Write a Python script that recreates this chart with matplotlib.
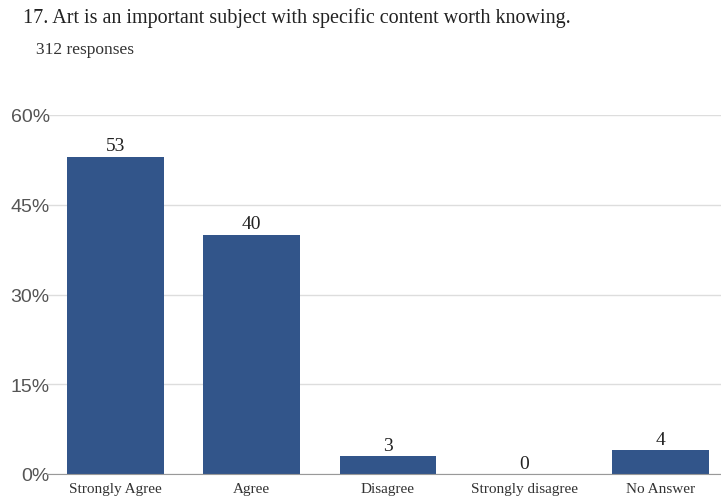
import matplotlib.pyplot as plt

categories = ["Strongly Agree", "Agree", "Disagree", "Strongly disagree", "No Answer"]
percents = [53, 40, 3, 0, 4]
yticks = [0, 15, 30, 45, 60]

fig = plt.figure(figsize=(7.21, 5.02), dpi=100)
# axes runs a bit past the right edge, as in the cropped screenshot
ax = fig.add_axes([47/721, 27/502, 682/721, 359/502])

bar_color = "#32558a"
x = list(range(len(categories)))
ax.bar(x, percents, width=0.71, color=bar_color, zorder=3)

for xi, v in zip(x, percents):
    ax.text(xi, v + 0.4, str(v), ha="center", va="bottom",
            family="Liberation Serif", fontsize=14, color="#222222")

ax.set_xlim(-0.5, 4.5)
ax.set_ylim(0, 60)
ax.set_yticks(yticks)
ax.set_yticklabels([f"{t}%" for t in yticks], family="Liberation Sans",
                   fontsize=14, color="#555555")
ax.set_xticks(x)
ax.set_xticklabels(categories, family="Liberation Serif", fontsize=11, color="#333333")
ax.tick_params(length=0, axis="both")
ax.tick_params(axis="y", pad=-2)
ax.tick_params(axis="x", pad=6)

ax.grid(axis="y", color="#dddddd", linewidth=1, zorder=0)
for s in ["top", "right", "left"]:
    ax.spines[s].set_visible(False)
ax.spines["bottom"].set_color("#999999")
ax.spines["bottom"].set_zorder(4)

fig.text(23/721, 1 - 18/502, "17. Art is an important subject with specific content worth knowing.",
         family="Liberation Serif", fontsize=14.5, color="#222222", va="center", ha="left")
fig.text(36/721, 1 - 50/502, "312 responses", family="Liberation Serif", fontsize=12.5,
         color="#333333", va="center", ha="left")

fig.savefig("out.png", dpi=100)
